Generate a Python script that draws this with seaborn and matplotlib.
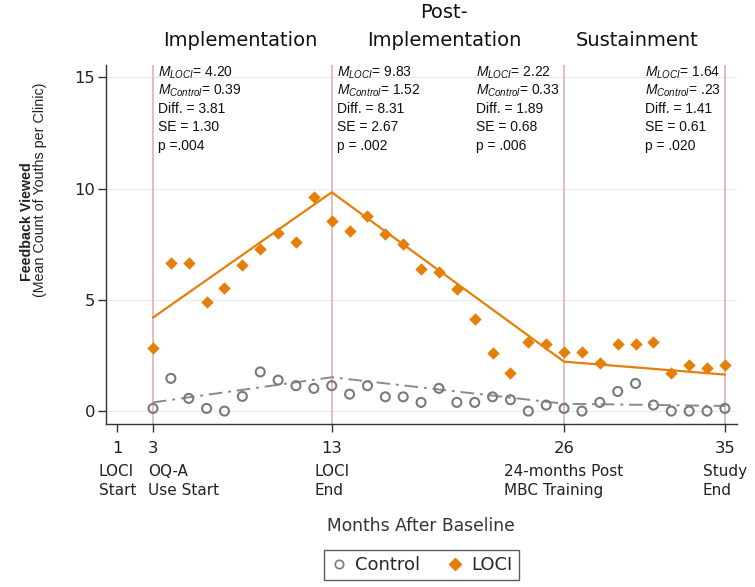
import numpy as np
import pandas as pd
import matplotlib; matplotlib.use('Agg')
import matplotlib.pyplot as plt
import matplotlib.transforms as mtransforms
from matplotlib.lines import Line2D
import seaborn as sns

# ── DATA ──────────────────────────────────────────────────
months = list(range(3, 36))
loci_vals = [2.83, 6.67, 6.67, 4.92, 5.55, 6.56, 7.30, 8.00, 7.60, 9.60, 8.53,
             8.10, 8.76, 7.97, 7.50, 6.37, 6.26, 5.47, 4.13, 2.63, 1.70, 3.11,
             3.00, 2.66, 2.66, 2.18, 3.00, 3.00, 3.11, 1.73, 2.08, 1.93, 2.08]
control_vals = [0.12, 1.47, 0.57, 0.12, 0.00, 0.66, 1.76, 1.39, 1.14, 1.02, 1.14,
                0.76, 1.14, 0.64, 0.64, 0.39, 1.02, 0.39, 0.39, 0.64, 0.51, 0.00,
                0.27, 0.12, 0.00, 0.39, 0.88, 1.24, 0.27, 0.00, 0.00, 0.00, 0.12]

knots = [3, 13, 26, 35]
loci_fit = [4.20, 9.83, 2.22, 1.64]
control_fit = [0.39, 1.52, 0.33, 0.23]

xticks = [1, 3, 13, 26, 35]
xtick_notes = ['LOCI\nStart', 'OQ-A\nUse Start', 'LOCI\nEnd',
               '24-months Post\nMBC Training', 'Study\nEnd']
phase_names = ['Implementation', 'Post-\nImplementation', 'Sustainment']

m_loci_txt = ['4.20', '9.83', '2.22', '1.64']
m_ctrl_txt = ['0.39', '1.52', '0.33', '.23']
diff_txt = ['3.81', '8.31', '1.89', '1.41']
se_txt = ['1.30', '2.67', '0.68', '0.61']
p_txt = ['p =.004', 'p = .002', 'p = .006', 'p = .020']

ORANGE = '#E57F0A'
GRAY = '#7A7A7A'
VLINE = '#DDA8B6'

# ── STYLE ─────────────────────────────────────────────────
sns.set_style('white')
plt.rcParams['font.family'] = ['DejaVu Sans']
plt.rcParams['mathtext.fontset'] = 'custom'
plt.rcParams['mathtext.it'] = 'Liberation Sans:italic'
plt.rcParams['mathtext.rm'] = 'Liberation Sans'

df = pd.DataFrame({'month': months * 2,
                   'value': control_vals + loci_vals,
                   'group': ['Control'] * len(months) + ['LOCI'] * len(months)})

fig = plt.figure(figsize=(7.55, 5.87), dpi=100, facecolor='white')
ax = fig.add_axes([0.1404, 0.2777, 0.976 - 0.1404, 0.8893 - 0.2777])

for yv in [0, 5, 10, 15]:
    ax.axhline(yv, color='#EBEBEB', lw=0.9, zorder=0)
for xv in knots:
    ax.axvline(xv, color=VLINE, lw=1.1, zorder=1)

# fitted piecewise lines
sns.lineplot(x=knots, y=loci_fit, color=ORANGE, lw=1.6, ax=ax, zorder=2)
sns.lineplot(x=knots, y=control_fit, color='#8A8A8A', lw=1.4, ax=ax, zorder=2,
             linestyle=(0, (7, 3, 1.5, 3)))

# observed points
sns.scatterplot(data=df[df.group == 'LOCI'], x='month', y='value', marker='D',
                color=ORANGE, s=40, linewidth=0, ax=ax, zorder=3, legend=False)
sns.scatterplot(data=df[df.group == 'Control'], x='month', y='value', marker='o',
                color='none', edgecolor=GRAY, s=42, linewidth=1.5, ax=ax,
                zorder=3, legend=False)
ax.collections[-1].set_facecolor('none')

ax.set_xlim(0.37, 35.67)
ax.set_ylim(-0.58, 15.55)
ax.set_xticks(xticks)
ax.set_xticklabels([str(t) for t in xticks])
ax.set_yticks([0, 5, 10, 15])
ax.tick_params(axis='both', which='major', length=6, width=1, color='#333333',
               labelsize=11.8, labelcolor='#222222', direction='out',
               bottom=True, left=True)
ax.tick_params(axis='x', pad=6)
ax.tick_params(axis='y', pad=2)
ax.set_xlabel('')
ax.set_ylabel('')
for side in ['top', 'right']:
    ax.spines[side].set_visible(False)
for side in ['left', 'bottom']:
    ax.spines[side].set_color('#333333')
    ax.spines[side].set_linewidth(1.0)

# notes under x ticks
trans = ax.get_xaxis_transform()
for xv, note in zip(xticks, xtick_notes):
    if xv == 3:
        ax.text(xv - 0.28, -0.112, note, transform=trans, ha='left', va='top',
                fontsize=11, linespacing=1.3, color='#222222')
    else:
        ax.text(xv, -0.112, note, transform=trans, ha='center', va='top',
                multialignment='left', fontsize=11, linespacing=1.3,
                color='#222222')

# phase titles (data x, figure y)
title_trans = mtransforms.blended_transform_factory(ax.transData, fig.transFigure)
title_x = [7.9, 19.3, 30.1]
for xv, name in zip(title_x, phase_names):
    lines = name.split('\n')
    ys = [1 - 40 / 587] if len(lines) == 1 else [1 - 12 / 587, 1 - 40 / 587]
    for yy, ln in zip(ys, lines):
        ax.text(xv, yy, ln, transform=title_trans, ha='center', va='center',
                fontsize=14, color='#111111')

# annotation blocks
block_x = [3.28, 13.29, 21.05, 30.52]
line_y = [15.01, 14.20, 13.39, 12.57, 11.75]
for i, bx in enumerate(block_x):
    rows = [r'$M_{LOCI}$= ' + m_loci_txt[i],
            r'$M_{Control}$= ' + m_ctrl_txt[i],
            'Diff. = ' + diff_txt[i],
            'SE = ' + se_txt[i],
            p_txt[i]]
    for yy, row in zip(line_y, rows):
        ax.text(bx, yy, row, ha='left', va='baseline', fontsize=10,
                family=['Liberation Sans', 'DejaVu Sans'], color='#111111')

# axis titles
fig.text(0.558, 1 - 526 / 587, 'Months After Baseline', ha='center', va='center',
         fontsize=12.3, color='#333333')
fig.text(27 / 755, 1 - 222 / 587, 'Feedback Viewed', rotation=90, ha='center',
         va='center', fontsize=10.3, fontweight='bold',
         family=['Liberation Sans', 'DejaVu Sans'], color='#222222')
fig.text(40 / 755, 1 - 189.5 / 587, '(Mean Count of Youths per Clinic)', rotation=90,
         ha='center', va='center', fontsize=10.3,
         family=['Liberation Sans', 'DejaVu Sans'], color='#222222')

# legend
handles = [Line2D([], [], ls='', marker='o', mfc='none', mec=GRAY, ms=6, mew=1.2),
           Line2D([], [], ls='', marker='D', color=ORANGE, ms=6.5)]
leg = fig.legend(handles, ['Control', 'LOCI'], loc='center', ncol=2,
                 bbox_to_anchor=(0.558, 1 - 565 / 587), frameon=True,
                 fancybox=False, edgecolor='#333333', fontsize=13,
                 handlelength=1.0, handletextpad=0.4, columnspacing=1.4,
                 borderpad=0.35)
leg.get_frame().set_linewidth(1.0)

fig.savefig('out.png', dpi=100)
plt.close(fig)
